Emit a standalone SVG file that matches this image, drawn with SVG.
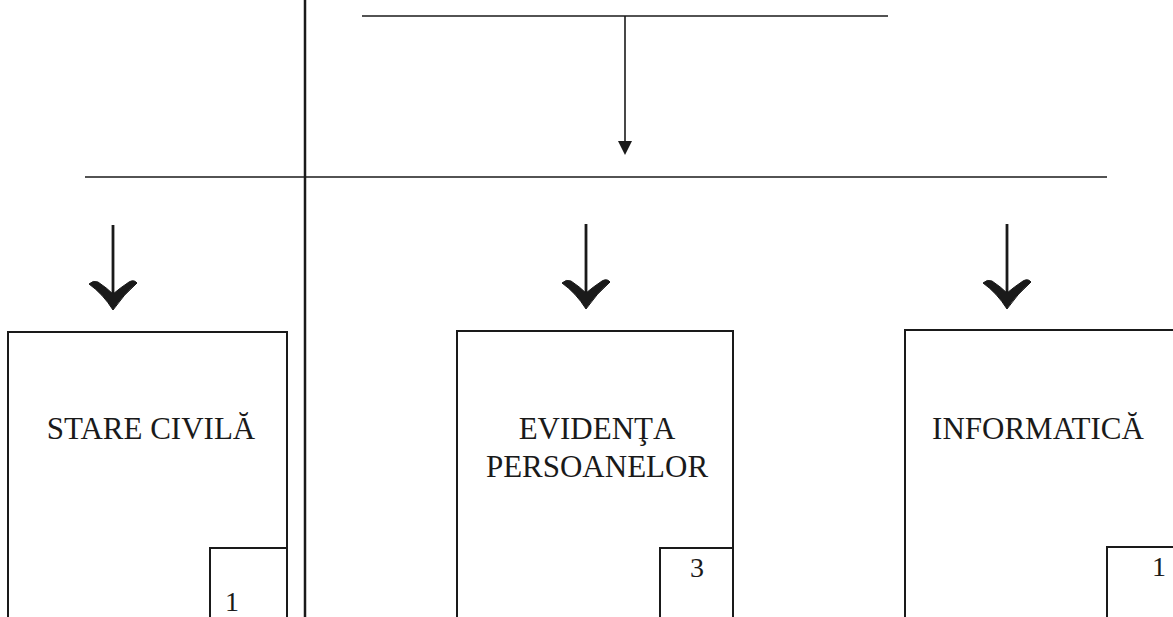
<svg xmlns="http://www.w3.org/2000/svg" width="1173" height="617" viewBox="0 0 1173 617">
<style>
.ln{stroke:#1a1a1a;stroke-width:1.6;fill:none}
.bx{stroke:#1a1a1a;stroke-width:2;fill:none}
.lbl{font-family:"Liberation Serif","Times New Roman",serif;font-size:31px;fill:#1a1a1a;text-anchor:middle}
.num{font-family:"Liberation Serif","Times New Roman",serif;font-size:28px;fill:#1a1a1a;text-anchor:middle}
.chev{fill:#1a1a1a;stroke:#1a1a1a;stroke-width:1;stroke-linejoin:round}
</style>
<rect width="1173" height="617" fill="#ffffff"/>
<g id="connectors">
<line class="ln" x1="305" y1="0" x2="305" y2="617" style="stroke-width:2.5"/>
<line class="ln" x1="362" y1="16" x2="888" y2="16"/>
<line class="ln" x1="625" y1="16" x2="625" y2="141"/>
<path d="M618,141 L632,141 L625,155 Z" fill="#1a1a1a"/>
<line class="ln" x1="85" y1="177" x2="1107" y2="177"/>
<line class="ln" x1="113" y1="225" x2="113" y2="300" style="stroke-width:2.8"/>
<path class="chev" d="M113,310 Q103,294 89,284 Q93,280 98,282 Q107,288 113,294 Q120,288 129,282 Q134,279 137,283 Q124,294 113,310 Z"/>
<line class="ln" x1="586" y1="224" x2="586" y2="300" style="stroke-width:2.8"/>
<path class="chev" d="M586,309 Q576,293 562,283 Q566,279 571,281 Q580,287 586,293 Q593,287 602,281 Q607,278 610,282 Q597,293 586,309 Z"/>
<line class="ln" x1="1007" y1="224" x2="1007" y2="300" style="stroke-width:2.8"/>
<path class="chev" d="M1007,309 Q997,293 983,283 Q987,279 992,281 Q1001,287 1007,293 Q1014,287 1023,281 Q1028,278 1031,282 Q1018,293 1007,309 Z"/>
</g>
<g id="stare-civila">
<polyline class="bx" points="8,617 8,332 287,332 287,617"/>
<text class="lbl" x="151" y="439">STARE CIVILĂ</text>
<polyline class="bx" points="210,617 210,548 287,548"/>
<text class="num" x="232" y="611">1</text>
</g>
<g id="evidenta-persoanelor">
<polyline class="bx" points="457,617 457,331 733,331 733,617"/>
<text class="lbl" x="597" y="439">EVIDENŢA</text>
<text class="lbl" x="597" y="477">PERSOANELOR</text>
<polyline class="bx" points="660,617 660,548 733,548"/>
<text class="num" x="697" y="577">3</text>
</g>
<g id="informatica">
<polyline class="bx" points="905,617 905,330 1173,330"/>
<text class="lbl" x="1038" y="439">INFORMATICĂ</text>
<polyline class="bx" points="1107,617 1107,547 1173,547"/>
<text class="num" x="1159" y="576">1</text>
</g>
</svg>
